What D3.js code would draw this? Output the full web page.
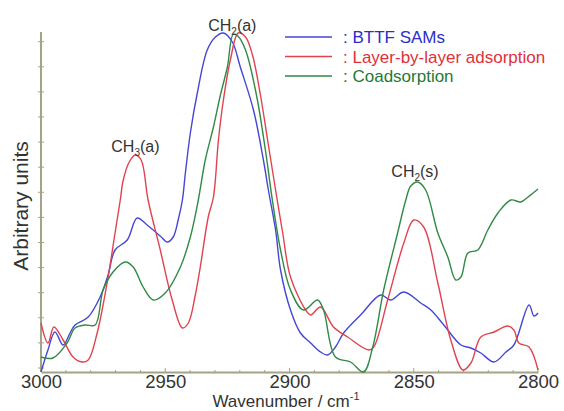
<!DOCTYPE html>
<html>
<head>
<meta charset="utf-8">
<script src="https://cdn.jsdelivr.net/npm/d3@7"></script>
<style>
  body { margin: 0; background: #fff; }
  svg { display: block; font-family: "Liberation Sans", Arial, sans-serif; }
</style>
</head>
<body>
<div id="chart"></div>
<script>
// [wavenumber (cm-1), intensity (arbitrary)]
const bttf = [
  [3000, 0], [2997.2, 22], [2994.4, 40], [2991.1, 27], [2988.3, 39], [2986.3, 47],
  [2981.0, 55], [2976.2, 75], [2973.0, 97], [2970.2, 122], [2965.3, 132], [2961.3, 154],
  [2957.3, 147], [2952.0, 136], [2949.2, 130], [2946.8, 135], [2944.8, 152], [2943.1, 172],
  [2941.9, 199], [2939.9, 239], [2937.1, 279], [2933.1, 322], [2929.8, 335], [2926.6, 339],
  [2923.0, 330], [2919.8, 305], [2914.5, 262], [2910.5, 212], [2908.5, 182], [2905.6, 142],
  [2903.6, 102], [2899.6, 62], [2895.6, 39], [2891.5, 29], [2887.5, 20], [2884.7, 17],
  [2881.5, 25], [2878.2, 39], [2871.4, 57], [2863.3, 77], [2859.3, 72], [2854.0, 80],
  [2847.2, 69], [2843.1, 62], [2837.9, 47], [2831.0, 27], [2827.0, 24], [2823.0, 19],
  [2817.7, 10], [2812.9, 20], [2809.7, 27], [2803.6, 67], [2801.6, 56], [2800, 59]
];

const layer = [
  [3000, 49], [2997.2, 29], [2994.8, 45], [2991.1, 32], [2987.1, 15], [2983.5, 10],
  [2981.0, 12], [2977.4, 39], [2973.4, 89], [2970.2, 139], [2968.1, 172], [2966.9, 192],
  [2964.5, 210], [2962.1, 217], [2959.7, 212], [2956.9, 172], [2952.0, 122], [2947.2, 72],
  [2943.1, 44], [2940.7, 49], [2937.9, 77], [2935.9, 105], [2932.7, 155], [2930.6, 175],
  [2928.6, 232], [2926.6, 272], [2923.8, 312], [2920.6, 339], [2917.7, 335], [2914.9, 317],
  [2911.7, 277], [2908.5, 227], [2905.6, 182], [2902.8, 140], [2899.6, 95], [2893.5, 62],
  [2891.5, 57], [2887.5, 65], [2882.3, 45], [2876.6, 35], [2868.1, 22], [2866.1, 25],
  [2860.5, 72], [2854.0, 129], [2850.0, 152], [2846.0, 145], [2840.3, 89], [2835.1, 32],
  [2830.2, 2], [2827.0, 9], [2823.0, 35], [2817.7, 40], [2812.1, 46], [2809.7, 42],
  [2807.7, 29], [2803.6, 25], [2800, 2]
];

const coads = [
  [3000, 15], [2995.2, 14], [2989.5, 29], [2986.3, 44], [2982.3, 47], [2978.2, 47],
  [2975.0, 82], [2971.0, 100], [2966.1, 110], [2962.9, 105], [2958.9, 85], [2954.8, 72],
  [2950.0, 79], [2943.9, 105], [2939.9, 135], [2936.7, 172], [2933.9, 212], [2930.6, 245],
  [2927.8, 277], [2925.0, 305], [2922.6, 338], [2920.8, 336], [2917.7, 322], [2913.3, 277],
  [2909.7, 222], [2906.9, 172], [2903.6, 122], [2899.6, 82], [2894.4, 62], [2888.7, 72],
  [2886.3, 62], [2881.5, 15], [2875.4, 10], [2870.2, 0], [2866.5, 25], [2862.1, 82],
  [2856.5, 139], [2853.2, 172], [2851.2, 186], [2848.4, 190], [2845.2, 182], [2840.3, 139],
  [2836.3, 115], [2833.1, 92], [2831.0, 95], [2828.2, 119], [2824.2, 122], [2820.2, 142],
  [2816.1, 159], [2810.9, 172], [2806.9, 170], [2804.0, 175], [2800, 183]
];

const seriesNames = [': BTTF SAMs', ': Layer-by-layer adsorption', ': Coadsorption'];
const seriesColors = ['#4646d6', '#e0434f', '#2f8a45'];
const legendColors = ['#2c2cc8', '#e0303a', '#1f7a35'];
const xTicks = [3000, 2950, 2900, 2850, 2800];

// label anchor (baseline) positions in data units
const peaks = [
  { main: 'CH', sub: '3', tail: '(a)', w: 2962, v: 220 },
  { main: 'CH', sub: '2', tail: '(a)', w: 2923, v: 341 },
  { main: 'CH', sub: '2', tail: '(s)', w: 2849.5, v: 195 }
];

const width = 564, height = 411;
const margin = { left: 41, right: 26, top: 32, bottom: 39 };

const svg = d3.select('#chart').append('svg')
  .attr('width', width)
  .attr('height', height);

const x = d3.scaleLinear().domain([3000, 2800]).range([margin.left, width - margin.right]);
const y = d3.scaleLinear().domain([0, 340]).range([height - margin.bottom, margin.top]);

const axisColor = '#a3a386';

// x axis
const xAxis = svg.append('g')
  .attr('transform', `translate(0,${y(0)})`)
  .call(d3.axisBottom(x).tickValues(xTicks).tickSize(0).tickPadding(3).tickFormat(d3.format('d')));
xAxis.select('.domain').attr('stroke', axisColor).attr('stroke-width', 2);
xAxis.selectAll('text')
  .attr('font-size', 18.5)
  .attr('fill', '#333')
  .attr('font-family', '"Liberation Sans", Arial, sans-serif');

svg.append('g').selectAll('line')
  .data(d3.range(3000, 2799, -10))
  .join('line')
  .attr('x1', (d) => x(d)).attr('x2', (d) => x(d))
  .attr('y1', y(0)).attr('y2', (d) => y(0) - (d % 50 === 0 ? 4 : 2))
  .attr('stroke', axisColor).attr('stroke-width', 1);

// y axis
svg.append('line')
  .attr('x1', x(3000)).attr('x2', x(3000))
  .attr('y1', y(0)).attr('y2', y(340))
  .attr('stroke', axisColor).attr('stroke-width', 2);

svg.append('g').selectAll('line')
  .data(d3.range(4, 335, 25.1))
  .join('line')
  .attr('x1', x(3000) - 3).attr('x2', x(3000) + 3)
  .attr('y1', (d) => y(d)).attr('y2', (d) => y(d))
  .attr('stroke', axisColor).attr('stroke-width', 1);

// curves
const line = d3.line()
  .x((d) => x(d[0]))
  .y((d) => y(d[1]))
  .curve(d3.curveCatmullRom.alpha(0.5));

svg.append('g')
  .selectAll('path')
  .data([bttf, layer, coads])
  .join('path')
  .attr('d', line)
  .attr('fill', 'none')
  .attr('stroke', (d, i) => seriesColors[i])
  .attr('stroke-width', 1.4)
  .attr('stroke-linejoin', 'round');

// peak labels
const peakText = svg.append('g')
  .selectAll('text')
  .data(peaks)
  .join('text')
  .attr('x', (d) => x(d.w))
  .attr('y', (d) => y(d.v))
  .attr('text-anchor', 'middle')
  .attr('font-size', 16)
  .attr('fill', '#333');
peakText.append('tspan').text((d) => d.main);
peakText.append('tspan').attr('font-size', 10).attr('dy', 4).text((d) => d.sub);
peakText.append('tspan').attr('dy', -4).text((d) => d.tail);

// legend
const legend = svg.append('g').attr('transform', 'translate(285,37)');
const item = legend.selectAll('g')
  .data(seriesNames)
  .join('g')
  .attr('transform', (d, i) => `translate(0,${i * 19.5})`);
item.append('line')
  .attr('x1', 0).attr('x2', 47)
  .attr('stroke', (d, i) => seriesColors[i])
  .attr('stroke-width', 1.6);
item.append('text')
  .attr('x', 58).attr('y', 6)
  .attr('font-size', 17)
  .attr('fill', (d, i) => legendColors[i])
  .text((d) => d);

// axis titles
const xTitle = svg.append('text')
  .attr('x', 286).attr('y', 406.5)
  .attr('text-anchor', 'middle')
  .attr('font-size', 17)
  .attr('fill', '#333');
xTitle.append('tspan').text('Wavenumber / cm');
xTitle.append('tspan').attr('font-size', 11).attr('dy', -7).text('-1');

svg.append('text')
  .attr('transform', 'translate(28,206) rotate(-90)')
  .attr('text-anchor', 'middle')
  .attr('font-size', 21)
  .attr('fill', '#333')
  .text('Arbitrary units');
</script>
</body>
</html>
